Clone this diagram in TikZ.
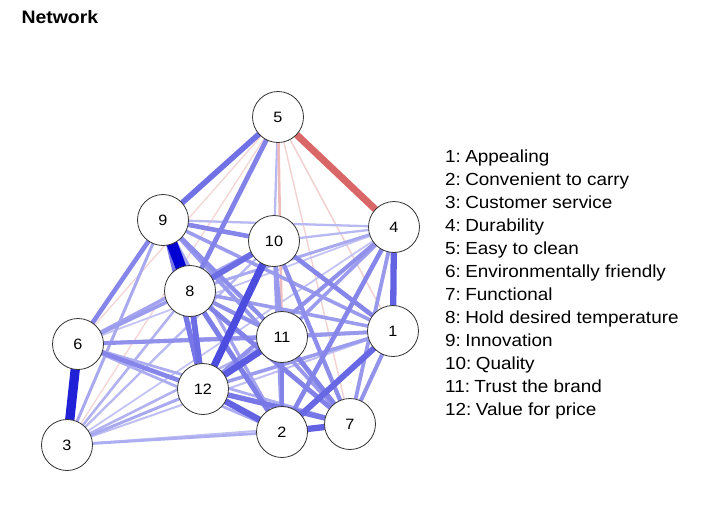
\documentclass[tikz,border=0pt]{standalone}
\usepackage{fontspec}
\setmainfont[FakeStretch=1.08]{Liberation Sans}
\usepackage{xcolor}
\definecolor{posblue}{HTML}{0000D2}
\definecolor{negred}{HTML}{C81E1E}
\definecolor{rim}{HTML}{333333}
\usetikzlibrary{backgrounds}

\begin{document}
\begin{tikzpicture}[x=1pt,y=-1pt,
  vertex/.style={circle, draw=rim, line width=0.8pt, fill=white, minimum size=51pt,
                 inner sep=0pt, font=\fontsize{15}{15}\selectfont},
  edge/.style={line cap=round}]
  \useasboundingbox (0,0) rectangle (702,507);
  % title
  \node[anchor=base west, font=\fontsize{18}{18}\selectfont\bfseries] (title) at (18,23) {Network};
  % vertices
  \foreach \n/\x/\y in {1/393/331, 2/282/432, 3/67/445, 4/394/227, 5/278/117, 6/78/344,
                        7/350/424, 8/190/291, 9/163/220, 10/274/241, 11/282/337, 12/203/389}
    \node[vertex] (n\n) at (\x,\y) {\n};
  % edges, weakest first
  \begin{pgfonlayer}{background}
  \foreach \a/\b/\w/\c in {5/6/.05/negred, 5/3/.05/negred, 5/7/.06/negred, 5/1/.07/negred,
      4/6/.1/posblue, 4/3/.1/posblue, 1/3/.12/posblue, 7/3/.12/posblue, 4/9/.15/posblue,
      4/10/.15/posblue, 10/3/.15/posblue, 5/10/.15/posblue, 8/3/.18/posblue, 11/3/.18/posblue,
      2/3/.2/posblue, 6/2/.2/posblue, 6/7/.2/posblue, 5/11/.18/negred, 12/3/.22/posblue,
      9/3/.22/posblue, 4/8/.22/posblue, 6/1/.22/posblue, 9/2/.25/posblue, 10/6/.25/posblue,
      12/1/.28/posblue, 8/6/.28/posblue, 8/1/.28/posblue, 10/2/.28/posblue, 4/11/.28/posblue,
      9/1/.28/posblue, 9/7/.3/posblue, 10/11/.3/posblue, 11/1/.3/posblue, 4/7/.3/posblue,
      1/7/.32/posblue, 6/11/.33/posblue, 4/12/.33/posblue, 8/11/.33/posblue, 9/11/.35/posblue,
      10/7/.35/posblue, 6/12/.38/posblue, 4/2/.38/posblue, 10/1/.38/posblue, 9/10/.38/posblue,
      9/6/.38/posblue, 5/8/.4/posblue, 11/2/.4/posblue, 11/7/.4/posblue, 8/7/.4/posblue,
      8/2/.42/posblue, 7/12/.45/posblue, 9/12/.45/posblue, 5/9/.48/posblue, 8/10/.5/posblue,
      8/12/.5/posblue, 1/2/.52/posblue, 2/12/.55/posblue, 2/7/.55/posblue, 11/12/.58/posblue,
      1/4/.55/posblue, 5/4/.62/negred, 10/12/.65/posblue, 3/6/.85/posblue, 8/9/1/posblue}{
    \pgfmathsetmacro\lw{0.8+10*\w}
    \pgfmathsetmacro\pc{15+85*\w}
    \draw[edge, line width=\lw pt, draw=\c!\pc] (n\a) -- (n\b);
  }
  \end{pgfonlayer}
  % legend
  \foreach \i/\t in {1/Appealing, 2/Convenient to carry, 3/Customer service, 4/Durability,
                     5/Easy to clean, 6/Environmentally friendly, 7/Functional,
                     8/Hold desired temperature, 9/Innovation, 10/Quality,
                     11/Trust the brand, 12/Value for price}
    \node[anchor=base west, font=\fontsize{17.5}{17.5}\selectfont, inner sep=0pt] (key\i)
      at (445,{162+23*(\i-1)}) {\i:\kern0.25em\ignorespaces\t\unskip};
\end{tikzpicture}
\end{document}
